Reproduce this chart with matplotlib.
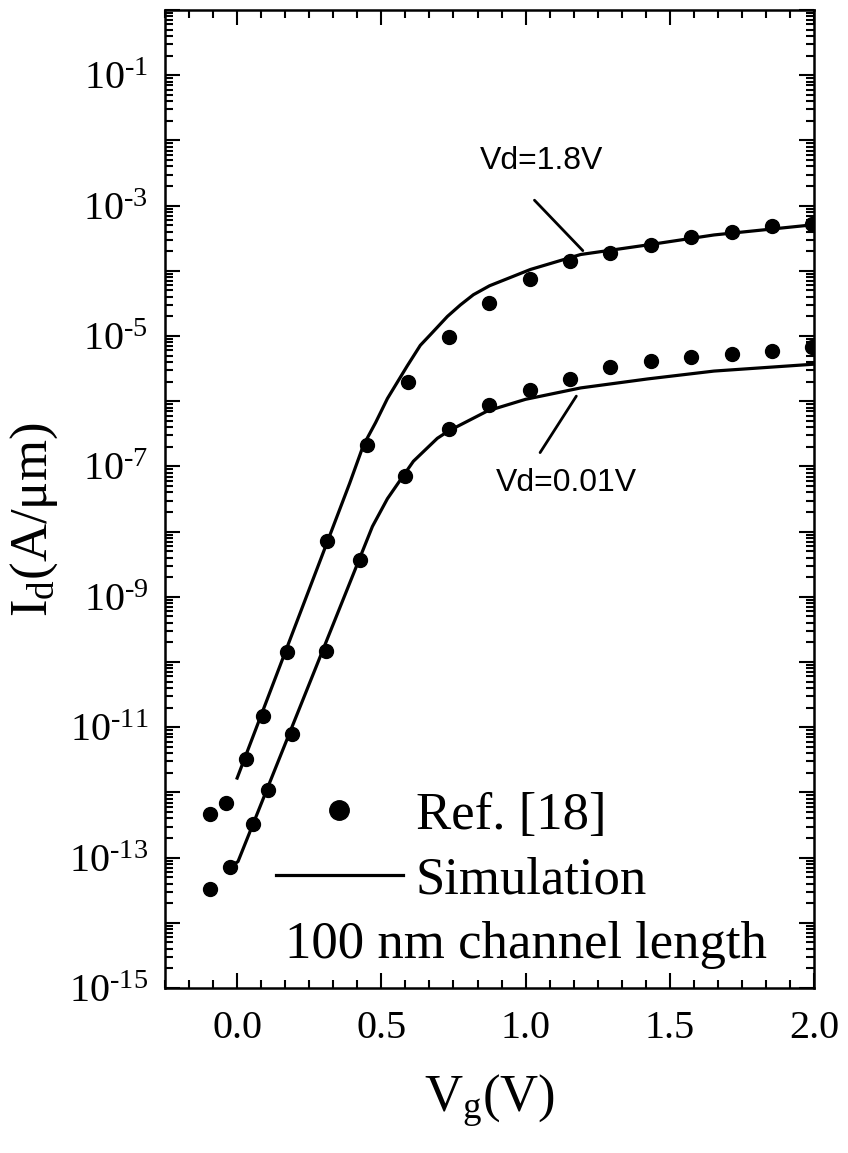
import numpy as np
import matplotlib
matplotlib.use('Agg')
from matplotlib import pyplot as plt
from matplotlib.ticker import LogLocator, MultipleLocator, FuncFormatter, NullFormatter

plt.rcParams['font.family'] = 'Liberation Serif'
plt.rcParams['mathtext.fontset'] = 'custom'
plt.rcParams['mathtext.rm'] = 'Liberation Serif'
plt.rcParams['mathtext.it'] = 'Liberation Serif:italic'

# measured points from Ref. [18]
vg_ref_18 = [-0.094, -0.038, 0.031, 0.090, 0.174, 0.313, 0.451, 0.594, 0.733,
             0.872, 1.014, 1.153, 1.292, 1.434, 1.573, 1.715, 1.854, 1.993]
id_ref_18 = [4.6e-13, 6.8e-13, 3.3e-12, 1.5e-11, 1.4e-10, 7.1e-9, 2.1e-7, 2.0e-6, 9.5e-6,
             3.2e-5, 7.6e-5, 1.4e-4, 1.9e-4, 2.5e-4, 3.3e-4, 4.0e-4, 4.8e-4, 5.2e-4]

vg_ref_001 = [-0.094, -0.024, 0.056, 0.108, 0.191, 0.309, 0.427, 0.583, 0.733,
              0.872, 1.014, 1.153, 1.292, 1.434, 1.573, 1.715, 1.854, 1.993]
id_ref_001 = [3.3e-14, 7.3e-14, 3.3e-13, 1.07e-12, 7.8e-12, 1.5e-10, 3.7e-9, 7.2e-8, 3.7e-7,
              8.7e-7, 1.5e-6, 2.2e-6, 3.3e-6, 4.1e-6, 4.8e-6, 5.3e-6, 5.9e-6, 6.7e-6]

# simulated transfer curves
vg_sim_18 = [0.0, 0.333, 0.39, 0.4375, 0.48, 0.521, 0.59, 0.635, 0.67, 0.729, 0.774,
             0.819, 0.875, 1.017, 1.191, 1.424, 1.653, 2.0]
id_sim_18 = [1.66e-12, 1.2e-8, 5.5e-8, 2.1e-7, 4.7e-7, 1.1e-6, 3.5e-6, 7.2e-6, 1.05e-5,
             2.0e-5, 3.0e-5, 4.3e-5, 5.9e-5, 1.05e-4, 1.78e-4, 2.5e-4, 3.55e-4, 5.1e-4]

vg_sim_001 = [-0.025, 0.003, 0.469, 0.521, 0.576, 0.611, 0.658, 0.694, 0.733, 0.868, 1.0,
              1.191, 1.424, 1.653, 2.0]
id_sim_001 = [7.2e-14, 8.7e-14, 1.2e-8, 3.2e-8, 7.2e-8, 1.2e-7, 1.9e-7, 2.7e-7, 3.5e-7,
              7.1e-7, 1.07e-6, 1.6e-6, 2.2e-6, 2.9e-6, 3.7e-6]

fig = plt.figure(figsize=(8.48, 11.53), dpi=100)
ax = fig.add_axes([0.1946, 0.1431, 0.7654, 0.8482])

ax.plot(vg_sim_18, id_sim_18, '-', color='black', lw=2.3, label='Simulation')
ax.plot(vg_sim_001, id_sim_001, '-', color='black', lw=2.3)
ax.plot(vg_ref_18, id_ref_18, 'o', color='black', ms=10, label='Ref. [18]')
ax.plot(vg_ref_001, id_ref_001, 'o', color='black', ms=10)

ax.set_yscale('log')
ax.set_xlim(-0.25, 2.0)
ax.set_ylim(1e-15, 1e0)

ax.xaxis.set_major_locator(MultipleLocator(0.5))
ax.xaxis.set_minor_locator(MultipleLocator(0.5 / 6))
ax.xaxis.set_major_formatter(FuncFormatter(lambda v, p: '%.1f' % v))

ax.yaxis.set_major_locator(LogLocator(base=10, numticks=30))
ax.yaxis.set_minor_locator(LogLocator(base=10, subs=np.arange(2, 10), numticks=30))
ax.yaxis.set_minor_formatter(NullFormatter())


def ylab(v, p):
    e = int(round(np.log10(v)))
    if e % 2 == 0:
        return ''
    # plain hyphen in the exponent
    return '$\\mathrm{10^{\u2010%d}}$' % abs(e)


ax.yaxis.set_major_formatter(FuncFormatter(ylab))

ax.tick_params(which='both', direction='in', top=True, right=True, width=1.5)
ax.tick_params(which='major', length=11)
ax.tick_params(which='minor', length=6)
ax.tick_params(axis='y', which='major', labelsize=29, pad=12)
ax.tick_params(axis='x', which='major', labelsize=29, pad=16)
for s in ax.spines.values():
    s.set_linewidth(1.8)

ax.set_xlabel(r'V$_\mathrm{g}$(V)', fontsize=38, labelpad=18)
ax.set_ylabel(r'I$_\mathrm{d}$(A/μm)', fontsize=38)
ax.yaxis.set_label_coords(-0.162, 0.4785)

# curve labels
ax.text(1.056, 4.8e-3, 'Vd=1.8V', fontsize=23, family='Liberation Sans', ha='center', va='center')
ax.annotate('', xy=(1.205, 1.9e-4), xytext=(1.024, 1.3e-3),
            arrowprops=dict(arrowstyle='-', lw=2, color='black'))
ax.text(1.142, 5.5e-8, 'Vd=0.01V', fontsize=23, family='Liberation Sans', ha='center', va='center')
ax.annotate('', xy=(1.181, 1.3e-6), xytext=(1.045, 1.5e-7),
            arrowprops=dict(arrowstyle='-', lw=2, color='black'))

handles, labels = ax.get_legend_handles_labels()
ax.legend(handles[::-1], labels[::-1], loc='upper left', bbox_to_anchor=(0.171, 0.2007),
          frameon=False, fontsize=38, handlelength=2.4, handletextpad=0.25,
          labelspacing=0.32, borderpad=0, borderaxespad=0, markerscale=1.4)

ax.text(0.556, 0.044, '100 nm channel length', fontsize=38, transform=ax.transAxes,
        ha='center', va='center')

fig.savefig('out.png', dpi=100)
